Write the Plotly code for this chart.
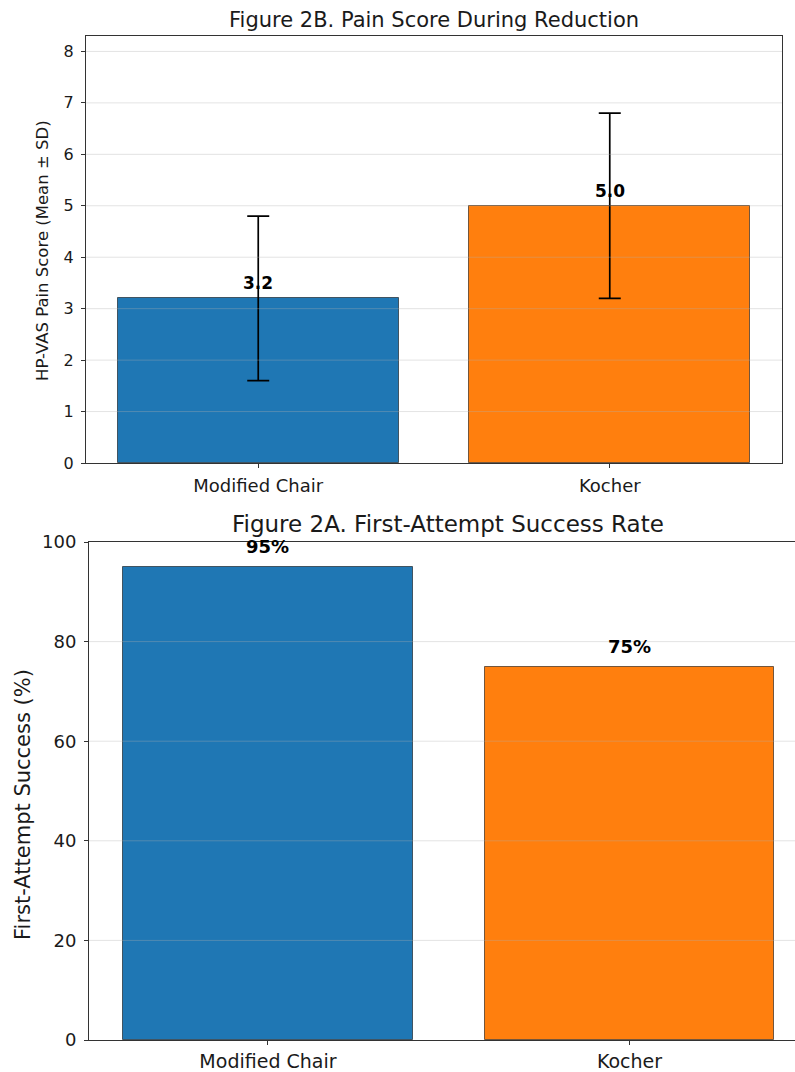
import plotly.graph_objects as go

# ---------------- data ----------------
categories = ["Modified Chair", "Kocher"]
pain_mean = [3.2, 5.0]
pain_sd = [1.6, 1.8]
pain_labels = ["3.2", "5.0"]
success_pct = [95, 75]
success_labels = ["95%", "75%"]
pain_ticks = [0, 1, 2, 3, 4, 5, 6, 7, 8]
success_ticks = [0, 20, 40, 60, 80, 100]
bar_colors = ["#1f77b4", "#ff7f0e"]

W, H = 795, 1072
FONT = "DejaVu Sans"
TXT = "#1a1a1a"
AX = "#333333"
GRID = "rgba(176,176,176,0.35)"


def fx(p):
    return p / W


def fy(p):
    return 1 - p / H


fig = go.Figure()

# Top: Figure 2B
fig.add_trace(go.Bar(
    x=categories, y=pain_mean, width=0.8,
    marker=dict(color=bar_colors, line=dict(color="rgba(0,0,0,0.55)", width=1)),
    error_y=dict(type="data", array=pain_sd, visible=True,
                 color="black", thickness=1.7, width=11),
    xaxis="x", yaxis="y", showlegend=False, hoverinfo="skip",
))

# Bottom: Figure 2A
fig.add_trace(go.Bar(
    x=categories, y=success_pct, width=0.8,
    marker=dict(color=bar_colors, line=dict(color="rgba(0,0,0,0.55)", width=1)),
    xaxis="x2", yaxis="y2", showlegend=False, hoverinfo="skip",
))

annotations = []
for c, v, t in zip(categories, pain_mean, pain_labels):
    annotations.append(dict(x=c, y=v, xref="x", yref="y", text=f"<b>{t}</b>",
                            showarrow=False, yanchor="middle", yshift=15,
                            font=dict(family=FONT, size=17, color="black")))
for c, v, t in zip(categories, success_pct, success_labels):
    annotations.append(dict(x=c, y=v, xref="x2", yref="y2", text=f"<b>{t}</b>",
                            showarrow=False, yanchor="middle", yshift=20,
                            font=dict(family=FONT, size=18, color="black")))

# titles and axis titles
annotations += [
    dict(text="Figure 2B. Pain Score During Reduction", x=fx(434), y=fy(20),
         xref="paper", yref="paper", showarrow=False, xanchor="center", yanchor="middle",
         font=dict(family=FONT, size=21, color=TXT)),
    dict(text="Figure 2A. First-Attempt Success Rate", x=fx(448), y=fy(524),
         xref="paper", yref="paper", showarrow=False, xanchor="center", yanchor="middle",
         font=dict(family=FONT, size=23, color=TXT)),
    dict(text="HP-VAS Pain Score (Mean ± SD)", x=fx(43), y=fy(251), textangle=-90,
         xref="paper", yref="paper", showarrow=False, xanchor="center", yanchor="middle",
         font=dict(family=FONT, size=16.5, color=TXT)),
    dict(text="First-Attempt Success (%)", x=fx(23), y=fy(805), textangle=-90,
         xref="paper", yref="paper", showarrow=False, xanchor="center", yanchor="middle",
         font=dict(family=FONT, size=21, color=TXT)),
]

shapes = []
for t in pain_ticks[1:]:
    shapes.append(dict(type="line", xref="x domain", yref="y", x0=0, x1=1, y0=t, y1=t,
                       line=dict(color=GRID, width=1), layer="above"))
for t in success_ticks[1:-1]:
    shapes.append(dict(type="line", xref="x2 domain", yref="y2", x0=0, x1=1, y0=t, y1=t,
                       line=dict(color=GRID, width=1), layer="above"))

common_axis = dict(showline=True, linecolor=AX, linewidth=1, ticks="outside",
                   ticklen=4, tickwidth=1, tickcolor=AX, showgrid=False,
                   zeroline=False, fixedrange=True, automargin=False)

fig.update_layout(
    width=W, height=H,
    margin=dict(l=0, r=0, t=0, b=0, pad=0),
    paper_bgcolor="white", plot_bgcolor="white",
    bargap=0,
    annotations=annotations,
    shapes=shapes,
    xaxis=dict(**common_axis, domain=[fx(86), fx(782)], anchor="y", mirror=True,
               type="category", range=[-0.49, 1.49], ticklabelstandoff=2,
               tickfont=dict(family=FONT, size=18, color=TXT)),
    yaxis=dict(**common_axis, domain=[fy(463), fy(36)], anchor="x", mirror=True,
               range=[0, 8.3], tickvals=pain_ticks, ticklabelstandoff=4,
               tickfont=dict(family=FONT, size=16, color=TXT)),
    xaxis2=dict(**common_axis, domain=[fx(89), 1.0], anchor="y2", mirror=True,
                type="category", range=[-0.495, 1.458], ticklabelstandoff=0,
                tickfont=dict(family=FONT, size=19, color=TXT)),
    yaxis2=dict(**common_axis, domain=[fy(1040), fy(542)], anchor="x2",
                range=[0, 100], tickvals=success_ticks, ticklabelstandoff=4,
                tickfont=dict(family=FONT, size=18, color=TXT)),
)

fig.write_html(
    "out.html",
    config={"displayModeBar": False},
    post_script="document.body.style.margin='0px';document.body.style.overflow='hidden';",
)
